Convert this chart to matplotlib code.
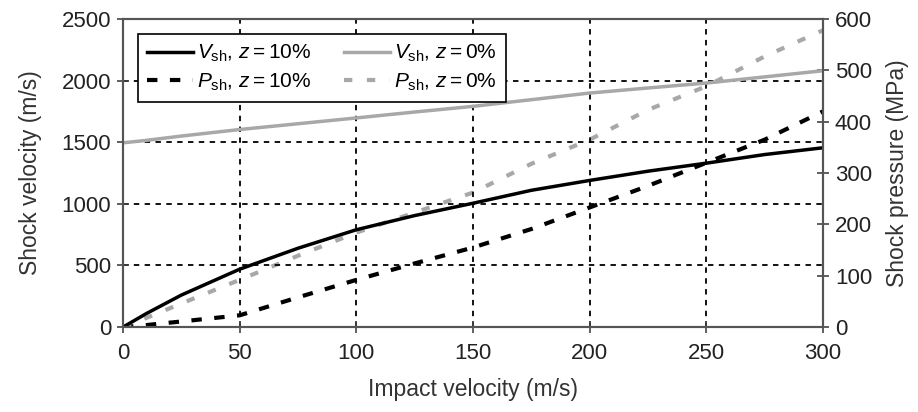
import matplotlib
matplotlib.use("Agg")
import matplotlib.pyplot as plt

plt.rcParams['font.family'] = ['Liberation Sans', 'DejaVu Sans']
plt.rcParams['mathtext.fontset'] = 'custom'
plt.rcParams['mathtext.rm'] = 'Liberation Sans'
plt.rcParams['mathtext.it'] = 'Liberation Sans:italic'

# impact velocity (m/s)
impact = [0, 10, 25, 50, 75, 100, 125, 150, 175, 200, 225, 250, 275, 300]

# shock velocity (m/s)
vsh_z10 = [0, 110, 260, 470, 640, 790, 905, 1005, 1110, 1190, 1265, 1330, 1400, 1455]
vsh_z0 = [1495, 1515, 1550, 1603, 1650, 1697, 1745, 1791, 1845, 1899, 1940, 1980, 2030, 2080]

# shock pressure (MPa)
psh_z10 = [0, 4, 11, 23, 58, 92, 124, 155, 191, 233, 275, 320, 365, 420]
psh_z0 = [0, 18, 46, 92, 139, 184, 223, 262, 318, 365, 423, 469, 527, 578]

gray = "#a8a8a8"

fig = plt.figure(figsize=(9.18, 4.12), dpi=100)
ax = fig.add_axes([0.134, 0.206, 0.7625, 0.748])
ax2 = ax.twinx()

l1, = ax.plot(impact, vsh_z10, color="black", lw=2.5)
l2, = ax.plot(impact, vsh_z0, color=gray, lw=2.5)
l3, = ax2.plot(impact, psh_z10, color="black", lw=3, dashes=(2.5, 3))
l4, = ax2.plot(impact, psh_z0, color=gray, lw=3, dashes=(2, 3.5))

ax.set_xlim(0, 300)
ax.set_ylim(0, 2500)
ax2.set_ylim(0, 600)
ax.set_xticks(range(0, 301, 50))
ax.set_yticks(range(0, 2501, 500))
ax2.set_yticks(range(0, 601, 100))

ax.grid(True, color="black", linestyle=(0, (3, 3)), lw=1.3)

for a in (ax, ax2):
    a.tick_params(direction="inout", length=9, width=1.2, labelsize=16,
                  colors="#444444", labelcolor="#222222", pad=4)
    for s in a.spines.values():
        s.set_color("#555555")
        s.set_linewidth(1.5)
ax.tick_params(axis="x", pad=7)

ax.set_xlabel("Impact velocity (m/s)", fontsize=16.5, labelpad=10, color="#333333")
ax.set_ylabel("Shock velocity (m/s)", fontsize=16.5, labelpad=14, color="#333333")
ax2.set_ylabel("Shock pressure (MPa)", fontsize=16.5, labelpad=10, color="#333333")

# legend filled column-wise, so order handles to get rows V / P
leg = ax.legend([l1, l3, l2, l4],
                [r"$V_{\mathrm{sh}}$, $z = 10\%$", r"$P_{\mathrm{sh}}$, $z = 10\%$",
                 r"$V_{\mathrm{sh}}$, $z = 0\%$", r"$P_{\mathrm{sh}}$, $z = 0\%$"],
                ncol=2, loc="upper left", fontsize=15, frameon=True, fancybox=False,
                handlelength=2.2, handletextpad=0.2, columnspacing=1.6,
                borderaxespad=0.7, labelspacing=0.35, borderpad=0.45)
leg.get_frame().set_edgecolor("black")
leg.get_frame().set_linewidth(1.2)
leg.get_frame().set_alpha(1)
ax2.set_zorder(0)
ax.set_zorder(1)
ax.patch.set_visible(False)

fig.savefig("out.png", dpi=100)
